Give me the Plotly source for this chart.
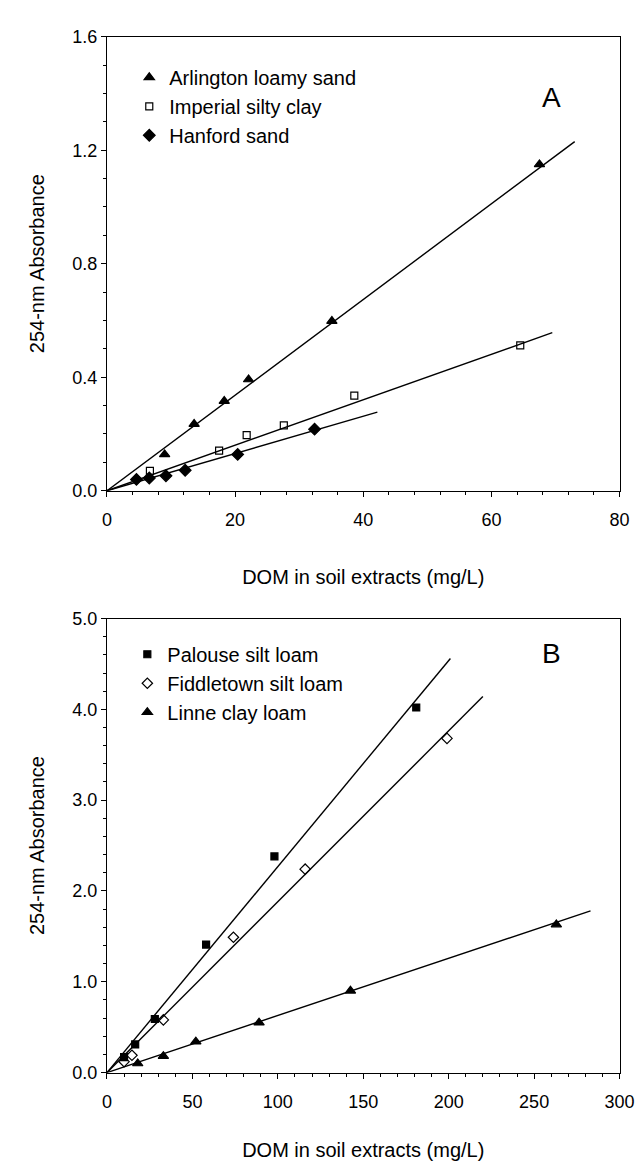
import plotly.graph_objects as go

W, H = 644, 1165

# ---------------- Panel A data ----------------
arl_x = [9.0, 13.6, 18.3, 22.1, 35.1, 67.5]
arl_y = [0.128, 0.235, 0.316, 0.392, 0.598, 1.150]
imp_x = [6.7, 17.5, 21.8, 27.6, 38.6, 64.5]
imp_y = [0.070, 0.141, 0.196, 0.230, 0.335, 0.512]
han_x = [4.6, 6.6, 9.2, 12.2, 20.4, 32.4]
han_y = [0.040, 0.045, 0.053, 0.072, 0.128, 0.217]
# fitted lines (start, end)
arl_fit_x = [0, 73.0]
arl_fit_y = [0, 1.230]
imp_fit_x = [0, 69.5]
imp_fit_y = [0, 0.557]
han_fit_x = [0, 42.2]
han_fit_y = [0, 0.277]

# ---------------- Panel B data ----------------
pal_x = [10, 16.5, 28, 58, 98, 181]
pal_y = [0.17, 0.31, 0.59, 1.41, 2.38, 4.02]
fid_x = [10, 14.6, 33, 74, 116, 199]
fid_y = [0.12, 0.19, 0.58, 1.49, 2.24, 3.68]
lin_x = [18, 33, 52, 89, 142.5, 263]
lin_y = [0.10, 0.18, 0.34, 0.55, 0.90, 1.63]
pal_fit_x = [0, 201]
pal_fit_y = [0, 4.56]
fid_fit_x = [0, 220]
fid_fit_y = [0, 4.14]
lin_fit_x = [0, 283]
lin_fit_y = [0, 1.78]

FONT = "Liberation Sans, Arial, sans-serif"
fig = go.Figure()

def add_line(x, y, xa, ya):
    fig.add_trace(go.Scatter(x=x, y=y, mode="lines", xaxis=xa, yaxis=ya,
                             line=dict(color="black", width=1.4), showlegend=False,
                             hoverinfo="skip"))

def add_pts(x, y, name, symbol, size, xa, ya, legend):
    fig.add_trace(go.Scatter(x=x, y=y, mode="markers", name=name, xaxis=xa, yaxis=ya,
                             legend=legend,
                             marker=dict(symbol=symbol, size=size, color="black",
                                         line=dict(color="black", width=1.2))))

add_line(arl_fit_x, arl_fit_y, "x", "y")
add_line(imp_fit_x, imp_fit_y, "x", "y")
add_line(han_fit_x, han_fit_y, "x", "y")
add_pts(arl_x, arl_y, "Arlington loamy sand", "triangle-up", 9, "x", "y", "legend")
add_pts(imp_x, imp_y, "Imperial silty clay", "square-open", 7, "x", "y", "legend")
add_pts(han_x, han_y, "Hanford sand", "diamond", 9, "x", "y", "legend")

add_line(pal_fit_x, pal_fit_y, "x2", "y2")
add_line(fid_fit_x, fid_fit_y, "x2", "y2")
add_line(lin_fit_x, lin_fit_y, "x2", "y2")
add_pts(pal_x, pal_y, "Palouse silt loam", "square", 7, "x2", "y2", "legend2")
add_pts(fid_x, fid_y, "Fiddletown silt loam", "diamond-open", 8, "x2", "y2", "legend2")
add_pts(lin_x, lin_y, "Linne clay loam", "triangle-up", 9, "x2", "y2", "legend2")

def px(v):
    return v / W

def py(v):
    return 1 - v / H

axis_common = dict(showline=True, linecolor="black", linewidth=1.2, mirror=True,
                   ticks="outside", ticklen=5, tickwidth=1.2, tickcolor="black",
                   showgrid=False, zeroline=False,
                   tickfont=dict(family=FONT, size=18, color="black"),
                   title_font=dict(family=FONT, size=20, color="black"))

leg_common = dict(xanchor="left", yanchor="top", bgcolor="rgba(0,0,0,0)",
                  font=dict(family=FONT, size=20, color="black"),
                  itemwidth=30, tracegroupgap=0)

fig.update_layout(
    width=W, height=H, paper_bgcolor="white", plot_bgcolor="white",
    margin=dict(l=0, r=0, t=0, b=0),
    font=dict(family=FONT, color="black"),
    xaxis=dict(domain=[px(97), px(626)], range=[0, 80], dtick=20, anchor="y",
               ticklabelstandoff=8,
               minor=dict(dtick=4, ticks="outside", ticklen=3, tickcolor="black"),
               title=dict(text="DOM in soil extracts (mg/L)", standoff=40), **axis_common),
    yaxis=dict(domain=[py(481), py(19)], range=[0, 1.6], dtick=0.4, tickformat=".1f",
               anchor="x",
               minor=dict(dtick=0.1, ticks="outside", ticklen=3, tickcolor="black"),
               title=dict(text="254-nm Absorbance", standoff=22), **axis_common),
    xaxis2=dict(domain=[px(97), px(626)], range=[0, 300], dtick=50, anchor="y2",
                ticklabelstandoff=8,
                minor=dict(dtick=10, ticks="outside", ticklen=3, tickcolor="black"),
                title=dict(text="DOM in soil extracts (mg/L)", standoff=31), **axis_common),
    yaxis2=dict(domain=[py(1073), py(611)], range=[0, 5], dtick=1, tickformat=".1f",
                anchor="x2",
                minor=dict(dtick=0.2, ticks="outside", ticklen=3, tickcolor="black"),
                title=dict(text="254-nm Absorbance", standoff=22), **axis_common),
    legend=dict(x=px(120), y=py(40.5), **leg_common),
    legend2=dict(x=px(118), y=py(627.5), **leg_common),
    annotations=[
        dict(text="A", x=px(568), y=py(63), xref="paper", yref="paper",
             showarrow=False, font=dict(family=FONT, size=28, color="black")),
        dict(text="B", x=px(568), y=py(647), xref="paper", yref="paper",
             showarrow=False, font=dict(family=FONT, size=28, color="black")),
    ],
)

fig.write_html("out.html")
